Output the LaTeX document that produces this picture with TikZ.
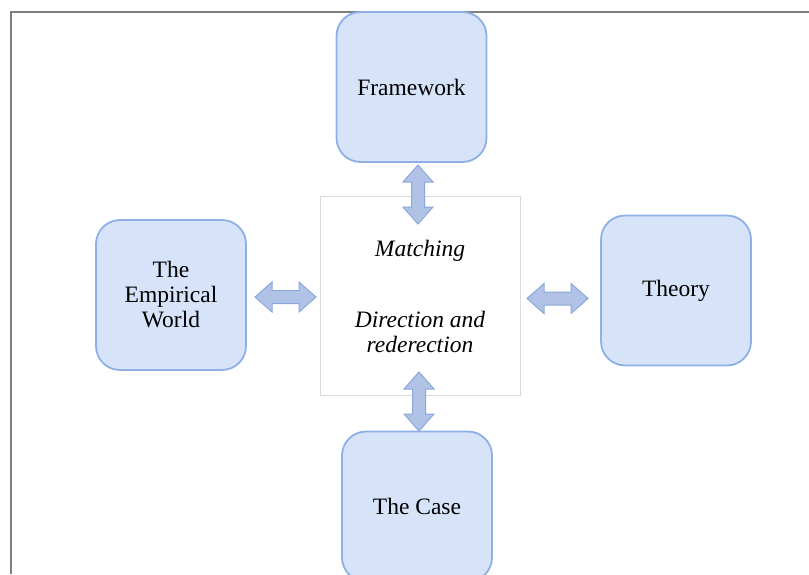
\documentclass[tikz,border=0pt]{standalone}
\usepackage{fontspec}
\setmainfont{Liberation Serif}
\begin{document}
\begin{tikzpicture}[x=1pt,y=-1pt,
  box/.style={draw=boxline,line width=1.8pt,fill=boxfill,rounded corners=24pt,
    minimum width=150pt,minimum height=150pt,align=center,font=\fontsize{23.5}{25}\selectfont},
  centerbox/.style={draw=cline,line width=0.6pt,fill=white,minimum width=200pt,minimum height=199pt},
  itext/.style={align=center,font=\fontsize{23.5}{25}\selectfont\itshape},
  blockarrow/.style={fill=arrfill,draw=arrline,line width=1pt,line join=miter}]
\definecolor{boxfill}{HTML}{D7E3F9}
\definecolor{boxline}{HTML}{8DB0E6}
\definecolor{cline}{HTML}{DADADA}
\definecolor{arrfill}{HTML}{B0C3E6}
\definecolor{arrline}{HTML}{8AA8DA}
\definecolor{frameline}{HTML}{7F7F7F}
\useasboundingbox (0,0) rectangle (809,574);
\begin{scope}
\clip (0,0) rectangle (809,574);
% frame
\coordinate (fl) at (11,574);
\coordinate (fc) at (11,12);
\coordinate (fr) at (809,12);
\draw[frameline,line width=1.5pt] (fl) -- (fc) -- (fr);
% center
\node[centerbox] (mid) at (420,295.5) {};
\node[itext] (match) at (420,251) {Matching};
\node[itext] (dir) at (420,332) {Direction and\\rederection};
% boxes
\node[box,text depth=0pt] (fw) at (411.5,87) {Framework};
\node[box] (emp) at (171,295) {The\\Empirical\\World};
\node[box] (th) at (676,290.5) {Theory};
\node[box] (case) at (417,506.5) {The Case};
% arrows
\newcommand\hdarrow[3]{% x1 x2 y
  \path[blockarrow] (#1,#3) -- (#1+17,#3-15) -- (#1+17,#3-6.5) -- (#2-17,#3-6.5) -- (#2-17,#3-15)
    -- (#2,#3) -- (#2-17,#3+15) -- (#2-17,#3+6.5) -- (#1+17,#3+6.5) -- (#1+17,#3+15) -- cycle;}
\newcommand\vdarrow[3]{% y1 y2 x
  \path[blockarrow] (#3,#1) -- (#3+15,#1+17) -- (#3+6.5,#1+17) -- (#3+6.5,#2-17) -- (#3+15,#2-17)
    -- (#3,#2) -- (#3-15,#2-17) -- (#3-6.5,#2-17) -- (#3-6.5,#1+17) -- (#3-15,#1+17) -- cycle;}
\hdarrow{255}{316}{297}
\hdarrow{527}{588}{298.5}
\vdarrow{165}{224}{418}
\vdarrow{372}{431}{419}
\end{scope}
\end{tikzpicture}
\end{document}
